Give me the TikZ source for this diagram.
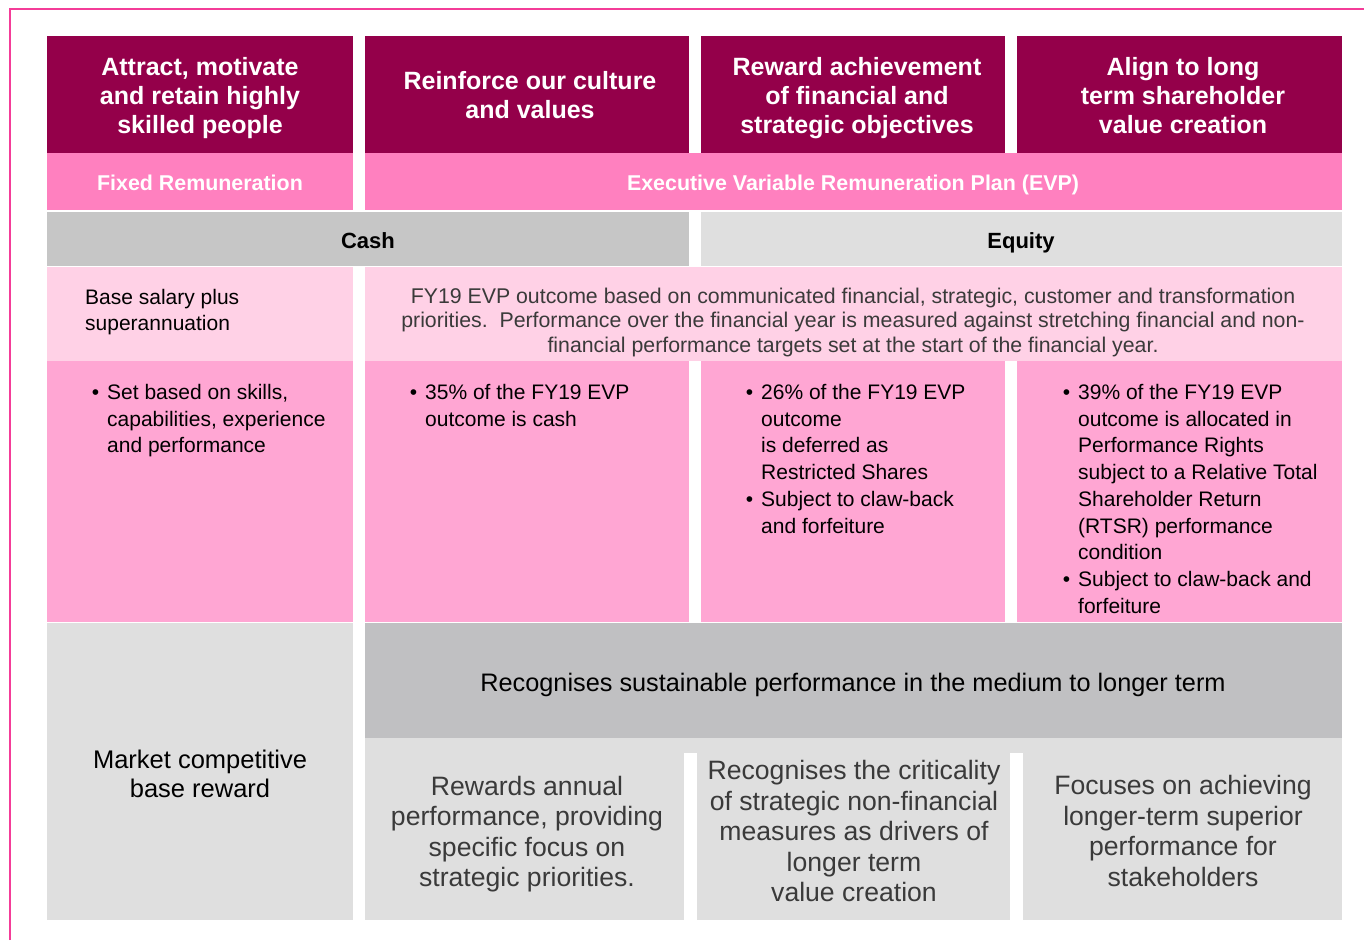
\documentclass[tikz,border=0pt]{standalone}
\usepackage{fontspec}
\setmainfont{Liberation Sans}

\definecolor{framepink}{HTML}{F43C98}
\definecolor{plum}{HTML}{94004A}
\definecolor{hotpink}{HTML}{FF80BF}
\definecolor{blushpink}{HTML}{FFD1E6}
\definecolor{candypink}{HTML}{FFA6D3}
\definecolor{cashgrey}{HTML}{C6C6C6}
\definecolor{palegrey}{HTML}{DFDFDF}
\definecolor{midgrey}{HTML}{C0C0C2}
\definecolor{inkgrey}{HTML}{3A3A3A}

\newcommand{\evpbul}{\llap{\textbullet\hspace{8pt}}}

\tikzset{
	aimtext/.style={text=white, font=\bfseries\fontsize{25}{29}\selectfont, align=center},
	bandtext/.style={anchor=base, text=white, font=\bfseries\fontsize{21.4}{25}\selectfont},
	splittext/.style={anchor=base, text=black, font=\bfseries\fontsize{22}{26}\selectfont},
	bullettext/.style={anchor=north west, inner sep=0pt, align=left, font=\fontsize{21}{26.75}\selectfont},
	reasontext/.style={text=inkgrey, align=center, font=\fontsize{26.6}{30.5}\selectfont}
}

\begin{document}
\begin{tikzpicture}[x=1pt, y=-1pt]
	\useasboundingbox (0,0) rectangle (1364,940);
	\draw[framepink, line width=1.5pt] (10,940) -- (10,9) -- (1364,9);

	% aims and bullet cells
	\foreach \a/\b in {47/353, 365/689, 701/1005, 1017/1342}{
		\fill[plum] (\a,36) rectangle (\b,153);
		\fill[candypink] (\a,361) rectangle (\b,622);
	}
	% plan bands
	\fill[hotpink] (47,153) rectangle (353,210);
	\fill[hotpink] (365,153) rectangle (1342,210);
	\fill[cashgrey] (47,212) rectangle (689,266);
	\fill[palegrey] (701,212) rectangle (1342,266);
	\fill[blushpink] (47,267) rectangle (353,361);
	\fill[blushpink] (365,267) rectangle (1342,361);
	% lower part
	\fill[palegrey] (47,623) rectangle (353,920);
	\fill[midgrey] (365,623) rectangle (1342,738);
	\fill[palegrey] (365,738) rectangle (1342,920);
	\fill[white] (684,753) rectangle (697,922);
	\fill[white] (1010,753) rectangle (1023,922);

	\node[aimtext] (attract) at (200,98) {Attract, motivate\\and retain highly\\skilled people};
	\node[aimtext] (culture) at (530,95.5) {Reinforce our culture\\and values};
	\node[aimtext] (achieve) at (857,98) {Reward achievement\\of financial and\\strategic objectives};
	\node[aimtext] (align) at (1183,96) {Align to long\\term shareholder\\value creation};

	\node[bandtext] (fixed) at (200,190.5) {Fixed Remuneration};
	\node[bandtext] (evp) at (853,190.5) {Executive Variable Remuneration Plan (EVP)};
	\node[splittext] (cash) at (368,248) {Cash};
	\node[splittext] (equity) at (1021,248) {Equity};

	\node[anchor=north west, inner sep=0pt, align=left, font=\fontsize{21}{26}\selectfont] (base) at (85,289) {Base salary plus\\superannuation};
	\node[text=inkgrey, align=center, font=\fontsize{21.3}{24.5}\selectfont] (outcome) at (853,322)
		{FY19 EVP outcome based on communicated financial, strategic, customer and transformation\\
		 priorities.\ \ Performance over the financial year is measured against stretching financial and non-\\
		 financial performance targets set at the start of the financial year.};

	\node[bullettext] (skills) at (107,384) {\evpbul Set based on skills,\\capabilities, experience\\and performance};
	\node[bullettext] (cashpart) at (425,384) {\evpbul 35\% of the FY19 EVP\\outcome is cash};
	\node[bullettext] (shares) at (761,384) {\evpbul 26\% of the FY19 EVP\\outcome\\is deferred as\\Restricted Shares\\\evpbul Subject to claw-back\\and forfeiture};
	\node[bullettext] (rights) at (1078,384) {\evpbul 39\% of the FY19 EVP\\outcome is allocated in\\Performance Rights\\subject to a Relative Total\\Shareholder Return\\(RTSR) performance\\condition\\\evpbul Subject to claw-back and\\forfeiture};

	\node[align=center, font=\fontsize{25.5}{29}\selectfont] (market) at (200,774) {Market competitive\\base reward};
	\node[font=\fontsize{25.3}{29}\selectfont] (medium) at (853,685) {Recognises sustainable performance in the medium to longer term};
	\node[reasontext] (annual) at (527,834) {Rewards annual\\performance, providing\\specific focus on\\strategic priorities.};
	\node[reasontext] (critical) at (854,831) {Recognises the criticality\\of strategic non-financial\\measures as drivers of\\longer term\\value creation};
	\node[reasontext] (superior) at (1183,831) {Focuses on achieving\\longer-term superior\\performance for\\stakeholders};
\end{tikzpicture}
\end{document}
